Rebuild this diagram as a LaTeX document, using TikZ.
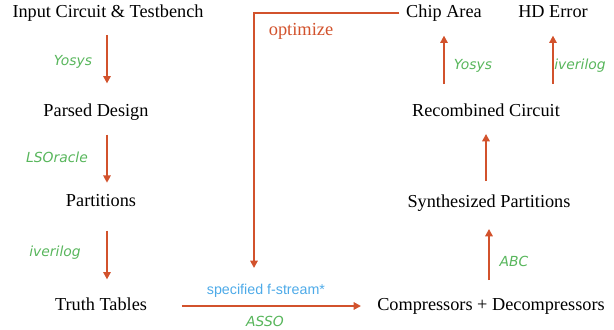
\documentclass[tikz,border=0pt]{standalone}
\usepackage{fontspec}
\setmainfont{Liberation Serif}
\newfontfamily\toolfont{DejaVu Sans}
\newfontfamily\notefont{Liberation Sans}
\usetikzlibrary{arrows.meta,positioning,calc}
\definecolor{flowred}{HTML}{D2522C}
\definecolor{toolgreen}{HTML}{58B65C}
\definecolor{noteblue}{HTML}{4DAAE8}
\begin{document}
\begin{tikzpicture}[x=0.75pt,y=-0.75pt,>={Triangle[length=5.5pt,width=5.5pt]},
  stage/.style={inner sep=0pt, font=\fontsize{13.7}{16}\selectfont, text height=9.5pt, text depth=3pt},
  tool/.style={inner sep=0pt, text=toolgreen, font=\toolfont\itshape\fontsize{10.4}{12}\selectfont},
  flow/.style={->, flowred, line width=1.7pt}]
\useasboundingbox (0,0) rectangle (614,329);
\node[stage] (input) at (108,13) {Input Circuit \& Testbench};
\node[stage] (parsed) at (96,112) {Parsed Design};
\node[stage] (parts) at (101,202) {Partitions};
\node[stage] (truth) at (101,306) {Truth Tables};
\node[stage] (comp) at (491,306) {Compressors + Decompressors};
\node[stage] (synth) at (489,203) {Synthesized Partitions};
\node[stage] (recomb) at (486,112) {Recombined Circuit};
\node[stage] (chip) at (444,13) {Chip Area};
\node[stage] (hd) at (553,13) {HD Error};
\coordinate (fb) at (254,268);
\foreach \name/\x/\y/\txt in {yosysA/73/62/Yosys, lso/57/157/LSOracle, iveriA/55/253/iverilog, asso/265/321/ASSO, yosysB/473/66/Yosys, iveriB/580/66/iverilog, abc/514/261/ABC}
  \node[tool] (\name) at (\x,\y) {\txt};
\node[inner sep=0pt, text=noteblue, font=\notefont\fontsize{10.7}{12}\selectfont] (fstream) at (266,291) {specified f-stream*};
\node[inner sep=0pt, text=flowred, font=\fontsize{13.8}{16}\selectfont] (opt) at (301,31) {optimize};
\draw[flow, shorten <=10pt, shorten >=15pt] ([xshift=-0.75pt]input.south) -- ([xshift=-0.75pt]input.south |- parsed.north);
\draw[flow, shorten <=10.5pt, shorten >=8pt] ([xshift=-0.75pt]input.south |- parsed.south) -- ([xshift=-0.75pt]input.south |- parts.north);
\draw[flow, shorten <=15pt, shorten >=13.5pt] ([xshift=-0.75pt]input.south |- parts.south) -- ([xshift=-0.75pt]input.south |- truth.north);
\draw[flow, shorten <=26pt, shorten >=12pt] (truth.east) -- (truth.east -| comp.west);
\draw[flow, shorten <=13pt, shorten >=13pt] (comp.north -| synth) -- (synth.south);
\draw[flow, shorten <=10pt, shorten >=10pt] (synth.north -| recomb) -- (recomb.south);
\draw[flow, shorten <=14.5pt, shorten >=10.5pt] (chip |- recomb.north) -- (chip.south);
\draw[flow, shorten <=14.5pt, shorten >=10.5pt] (hd |- recomb.north) -- (hd.south);
\draw[flow, shorten <=5pt] (chip.west) -| (fb);
\end{tikzpicture}
\end{document}
